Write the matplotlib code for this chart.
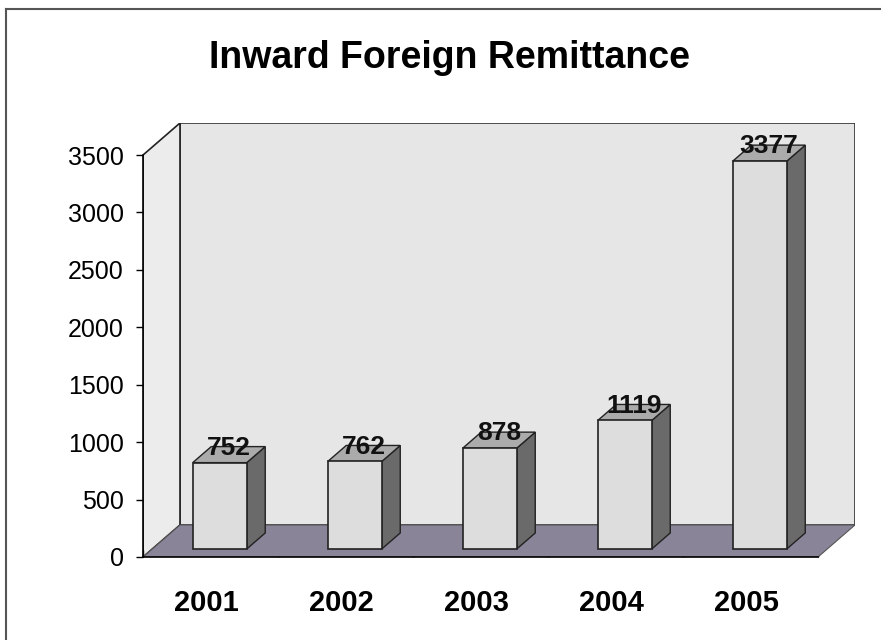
import matplotlib
matplotlib.use("Agg")
import matplotlib.pyplot as plt
from matplotlib.patches import Polygon
from matplotlib.lines import Line2D

plt.rcParams['font.family'] = ['Liberation Sans', 'DejaVu Sans']

years = ['2001', '2002', '2003', '2004', '2005']
remittance = [752, 762, 878, 1119, 3377]
yticks = [0, 500, 1000, 1500, 2000, 2500, 3000, 3500]

# depth of the pseudo-3d box in data units
DX = 0.274
DY = 279
YMAX = 3500

fig = plt.figure(figsize=(8.87, 6.40), dpi=100)
ax = fig.add_axes([143/887, 83/640, 712/887, 434/640])
ax.set_xlim(0, len(years) + DX)
ax.set_ylim(0, YMAX + DY)

n = len(years)
wall = '#e6e6e6'
floor = '#8a8498'

# back wall, left wall, floor
ax.add_patch(Polygon([(DX, DY), (n + DX, DY), (n + DX, YMAX + DY), (DX, YMAX + DY)],
                     closed=True, fc=wall, ec='#333333', lw=1.2, zorder=1))
ax.add_patch(Polygon([(0, 0), (DX, DY), (DX, YMAX + DY), (0, YMAX)],
                     closed=True, fc='#ececec', ec='#222222', lw=1.2, zorder=1))
ax.add_patch(Polygon([(0, 0), (n, 0), (n + DX, DY), (DX, DY)],
                     closed=True, fc=floor, ec='#555555', lw=0.8, zorder=2))

# bars
for i, v in enumerate(remittance):
    fx0 = i + 0.3 + 0.25 * DX
    fx1 = i + 0.7 + 0.25 * DX
    fy0 = 0.25 * DY
    fy1 = v + 0.25 * DY
    bx, by = 0.5 * DX, 0.5 * DY
    side = [(fx1, fy0), (fx1 + bx, fy0 + by), (fx1 + bx, fy1 + by), (fx1, fy1)]
    top = [(fx0, fy1), (fx1, fy1), (fx1 + bx, fy1 + by), (fx0 + bx, fy1 + by)]
    front = [(fx0, fy0), (fx1, fy0), (fx1, fy1), (fx0, fy1)]
    ax.add_patch(Polygon(side, closed=True, fc='#6a6a6a', ec='#222222', lw=1, zorder=3))
    ax.add_patch(Polygon(top, closed=True, fc='#ababab', ec='#222222', lw=1, zorder=3))
    ax.add_patch(Polygon(front, closed=True, fc='#dddddd', ec='#222222', lw=1.2, zorder=4))
    ax.annotate(str(v), ((fx0 + fx1) / 2 + bx / 2, fy1 + by / 2),
                xytext=(0, 5), textcoords='offset points',
                ha='center', va='center', fontsize=19, fontweight='bold',
                color='#111111', zorder=5)

for s in ['top', 'right']:
    ax.spines[s].set_visible(False)
ax.spines['left'].set_bounds(0, YMAX)
ax.spines['bottom'].set_bounds(0, n)
ax.spines['left'].set_linewidth(1.2)
ax.spines['bottom'].set_linewidth(1.2)
ax.spines['left'].set_zorder(6)
ax.spines['bottom'].set_zorder(6)

ax.set_yticks(yticks)
ax.set_yticklabels([str(t) for t in yticks], fontsize=18)
ax.tick_params(axis='y', length=5, width=1, pad=9)

ax.set_xticks(range(n + 1))
ax.set_xticklabels([])
ax.set_xticks([i + 0.47 for i in range(n)], minor=True)
ax.set_xticklabels(years, minor=True, fontsize=21, fontweight='bold')
ax.tick_params(axis='x', which='major', length=5, width=1, direction='in')
ax.tick_params(axis='x', which='minor', length=0, pad=23)

fig.text(0.507, 1 - 58/640, 'Inward Foreign Remittance', ha='center', va='center',
         fontsize=27, fontweight='bold')

# frame lines
fig.add_artist(Line2D([6/887, 6/887], [0, 1 - 9/640], color='#555555', lw=1.5))
fig.add_artist(Line2D([6/887, 880/887], [1 - 9/640, 1 - 9/640], color='#555555', lw=1.5))

fig.savefig('out.png', dpi=100)
